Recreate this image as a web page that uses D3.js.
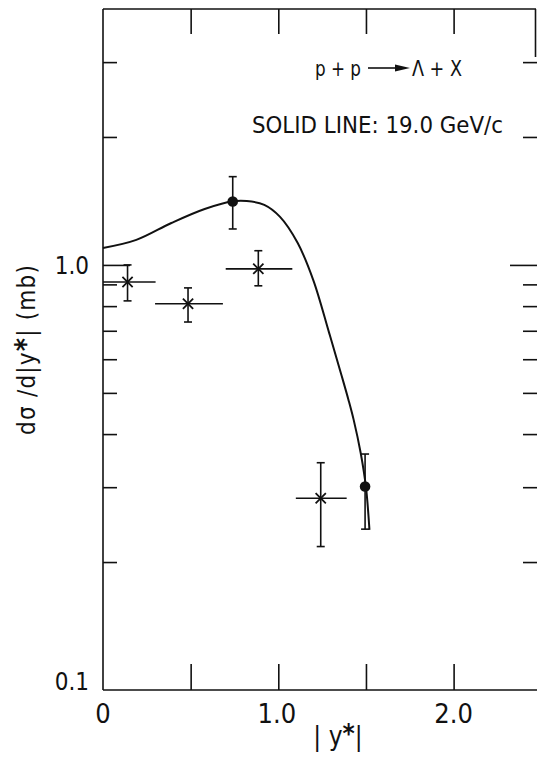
<!DOCTYPE html>
<html>
<head>
<meta charset="utf-8">
<script src="https://cdn.jsdelivr.net/npm/d3@7"></script>
<style>
  body { margin: 0; background: #fff; }
  svg text { font-family: 'DejaVu Sans Condensed', 'DejaVu Sans', sans-serif; font-stretch: condensed; fill: #111; }
</style>
</head>
<body>
<div id="chart"></div>
<script>
// # Data.
// solid line (theory, 19.0 GeV/c)
const curveX = [0, 0.19, 0.39, 0.58, 0.74, 0.82, 0.92, 1.01, 1.11, 1.20, 1.29, 1.36, 1.40, 1.43, 1.47, 1.50, 1.52]
const curveY = [1.096, 1.145, 1.255, 1.354, 1.412, 1.414, 1.384, 1.297, 1.127, 0.92, 0.692, 0.551, 0.482, 0.432, 0.361, 0.30, 0.238]

// filled circles
const dotX = [0.74, 1.495]
const dotY = [1.41, 0.301]
const dotLo = [1.215, 0.239]
const dotHi = [1.613, 0.359]

// asterisks with x bins
const starX = [0.14, 0.485, 0.886, 1.242]
const starY = [0.912, 0.81, 0.979, 0.2825]
const starLo = [0.823, 0.734, 0.893, 0.2175]
const starHi = [1.0, 0.883, 1.08, 0.3425]
const starXLo = [0.0, 0.297, 0.70, 1.10]
const starXHi = [0.30, 0.684, 1.08, 1.39]

// axis ticks
const xTicks = [0.5, 1.0, 1.5, 2.0]
const xLabels = [[0, '0'], [1.0, '1.0'], [2.0, '2.0']]
const yMinor = [3, 2, 0.9, 0.8, 0.7, 0.6, 0.5, 0.4, 0.3, 0.2]
const yMajor = [1.0]
const yLabels = [[1.0, '1.0'], [0.1, '0.1']]

const W = 537, H = 761
const ink = '#111'

let svg = d3.select('#chart')
    .append('svg')
    .attr('width', W)
    .attr('height', H)

let x = d3.scaleLinear().domain([0, 2.47]).range([103, 536])
let y = d3.scaleLog().domain([0.1, 4]).range([690, 9])

// # Frame: left, bottom, top and the short bit of right edge still visible.
let frame = svg.append('g').attr('stroke', ink).attr('stroke-width', 1.6).attr('fill', 'none')
frame.append('line').attr('x1', x(0)).attr('x2', x(0)).attr('y1', y(4)).attr('y2', y(0.1))
frame.append('line').attr('x1', x(0)).attr('x2', W).attr('y1', y(0.1)).attr('y2', y(0.1))
frame.append('line').attr('x1', x(0)).attr('x2', x(2.47)).attr('y1', y(4)).attr('y2', y(4))
frame.append('line').attr('x1', x(2.47) - 0.5).attr('x2', x(2.47) - 0.5).attr('y1', y(4)).attr('y2', 57)

// # Ticks (inward, via d3 axes with no labels).
function ticks(axis, tr) {
    let g = svg.append('g').attr('transform', tr).call(axis)
    g.select('.domain').remove()
    g.selectAll('line').attr('stroke', ink).attr('stroke-width', 1.6)
    g.selectAll('text').remove()
}
ticks(d3.axisBottom(x).tickValues(xTicks).tickSize(-26).tickFormat(''), `translate(0,${y(0.1)})`)
ticks(d3.axisTop(x).tickValues(xTicks).tickSize(-25).tickFormat(''), `translate(0,${y(4)})`)
ticks(d3.axisLeft(y).tickValues(yMinor).tickSize(-14).tickFormat(''), `translate(${x(0)},0)`)
ticks(d3.axisLeft(y).tickValues(yMajor).tickSize(-27).tickFormat(''), `translate(${x(0)},0)`)
ticks(d3.axisRight(y).tickValues(yMinor).tickSize(-14).tickFormat(''), `translate(${W},0)`)
ticks(d3.axisRight(y).tickValues(yMajor).tickSize(-27).tickFormat(''), `translate(${W},0)`)

// # Tick labels.
svg.append('g').selectAll('text')
    .data(xLabels).enter().append('text')
    .attr('x', d => x(d[0]) - (d[1] == '1.0' ? 1.5 : 0))
    .attr('y', 723)
    .attr('text-anchor', 'middle')
    .attr('font-size', 27)
    .text(d => d[1])
svg.append('g').selectAll('text')
    .data(yLabels).enter().append('text')
    .attr('x', 89)
    .attr('y', d => d[0] == 0.1 ? y(d[0]) : y(d[0]) + 9)
    .attr('text-anchor', 'end')
    .attr('font-size', 24)
    .text(d => d[1])

// # Axis titles.
let xt = svg.append('text')
    .attr('x', 338).attr('y', 745)
    .attr('text-anchor', 'middle')
    .attr('font-size', 26)
xt.append('tspan').text('| y')
xt.append('tspan').attr('font-weight', 'bold').attr('dy', -2).text('*')
xt.append('tspan').attr('dy', 2).text('|')

let yt = svg.append('text')
    .attr('transform', 'translate(35,350) rotate(-90)')
    .attr('text-anchor', 'middle')
    .attr('font-size', 24)
    .attr('textLength', 170).attr('lengthAdjust', 'spacing')
yt.append('tspan').text('dσ /d|y')
yt.append('tspan').attr('font-weight', 'bold').attr('font-size', 28).text('*')
yt.append('tspan').text('|  (mb)')

// # Annotations.
svg.append('text').attr('x', 315).attr('y', 76).attr('font-size', 22)
    .attr('textLength', 46).attr('lengthAdjust', 'spacingAndGlyphs').text('p + p')
svg.append('line').attr('x1', 368).attr('x2', 398).attr('y1', 68).attr('y2', 68)
    .attr('stroke', ink).attr('stroke-width', 1.6)
svg.append('path').attr('d', 'M395,64.5 L410,68 L395,71.5 Z').attr('fill', ink)
svg.append('text').attr('x', 412).attr('y', 76).attr('font-size', 22)
    .attr('textLength', 50).attr('lengthAdjust', 'spacingAndGlyphs').text('Λ + X')
svg.append('text').attr('x', 252).attr('y', 133).attr('font-size', 23)
    .attr('textLength', 251).attr('lengthAdjust', 'spacingAndGlyphs')
    .text('SOLID LINE: 19.0 GeV/c')

// # Solid line.
let line = d3.line()
    .x(i => x(curveX[i]))
    .y(i => y(curveY[i]))
    .curve(d3.curveCatmullRom.alpha(0.5))
svg.append('path')
    .attr('d', line(d3.range(curveX.length)))
    .attr('fill', 'none')
    .attr('stroke', ink)
    .attr('stroke-width', 2)

// # Error bars.
let cap = 4
let bars = svg.append('g').attr('stroke', ink).attr('stroke-width', 1.6)
dotX.forEach((v, i) => {
    bars.append('line').attr('x1', x(v)).attr('x2', x(v)).attr('y1', y(dotLo[i])).attr('y2', y(dotHi[i]))
    bars.append('line').attr('x1', x(v) - cap).attr('x2', x(v) + cap).attr('y1', y(dotLo[i])).attr('y2', y(dotLo[i]))
    bars.append('line').attr('x1', x(v) - cap).attr('x2', x(v) + cap).attr('y1', y(dotHi[i])).attr('y2', y(dotHi[i]))
})
starX.forEach((v, i) => {
    bars.append('line').attr('x1', x(v)).attr('x2', x(v)).attr('y1', y(starLo[i])).attr('y2', y(starHi[i]))
    bars.append('line').attr('x1', x(v) - cap).attr('x2', x(v) + cap).attr('y1', y(starLo[i])).attr('y2', y(starLo[i]))
    bars.append('line').attr('x1', x(v) - cap).attr('x2', x(v) + cap).attr('y1', y(starHi[i])).attr('y2', y(starHi[i]))
    bars.append('line').attr('x1', x(starXLo[i])).attr('x2', x(starXHi[i])).attr('y1', y(starY[i])).attr('y2', y(starY[i]))
})

// # Markers.
svg.append('g').selectAll('circle')
    .data(dotX).enter().append('circle')
    .attr('cx', d => x(d))
    .attr('cy', (d, i) => y(dotY[i]))
    .attr('r', 5.3)
    .attr('fill', ink)
svg.append('g').selectAll('path')
    .data(starX).enter().append('path')
    .attr('transform', (d, i) => `translate(${x(d)},${y(starY[i])})`)
    .attr('d', d3.symbol(d3.symbolTimes, 70))
    .attr('fill', 'none')
    .attr('stroke', ink)
    .attr('stroke-width', 1.8)
</script>
</body>
</html>
